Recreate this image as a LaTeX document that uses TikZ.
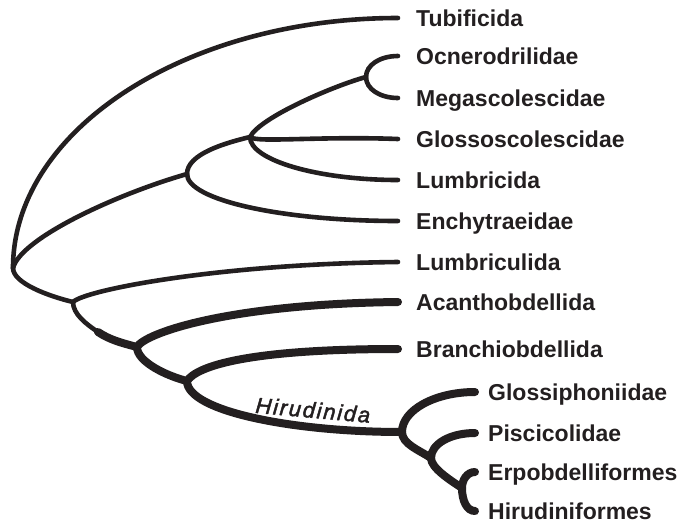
\documentclass[tikz,border=0pt]{standalone}
\usepackage{fontspec}
\setmainfont{Liberation Sans}
\newfontfamily\cladefont{Liberation Sans}[LetterSpace=8, FakeBold=2]
\usetikzlibrary{positioning}
\definecolor{ink}{HTML}{231F20}
\tikzset{
  % --- nodes
  taxon/.style = {anchor=west, inner sep=0pt, text=ink, text height=16.5pt, text depth=0pt,
                  font=\fontsize{23}{26}\selectfont\bfseries},
  clade/.style = {inner sep=0pt, text=ink, font=\cladefont\fontsize{22}{24}\selectfont\itshape},
  % --- edges
  br/.style    = {draw=ink, line width=4.6pt, line cap=round},
  brk/.style   = {br, line width=8pt},
}
\begin{document}
\begin{tikzpicture}[x=1pt, y=-1pt]
  \useasboundingbox (0,0) rectangle (691,531);
  % branch points
  \coordinate (root)   at (13,268);
  \coordinate (olig)   at (187,174);
  \coordinate (crass)  at (250,137);
  \coordinate (megas)  at (366,77);
  \coordinate (lumb)   at (73,302);
  \coordinate (thick)  at (98,332);
  \coordinate (acan)   at (137,347);
  \coordinate (branch) at (187,381);
  \coordinate (hiru)   at (402,432);
  \coordinate (pisc)   at (431,458);
  \coordinate (arhy)   at (462,488);

  \foreach \n/\y/\t in {tubi/18/Tubificida, ocne/56/Ocnerodrilidae, mega/98/Megascolescidae,
                        glos/139/Glossoscolescidae, lumbr/180/Lumbricida, ench/221/Enchytraeidae,
                        lbcl/262/Lumbriculida, acbd/302/Acanthobdellida, brbd/349/Branchiobdellida} {
    \coordinate (t-\n) at (398,\y);
    \node[taxon] (\n) at (416,\y) {\t};
  }
  \foreach \n/\y/\t in {glph/392/Glossiphoniidae, pscl/433/Piscicolidae,
                        erpo/472/Erpobdelliformes, hrdf/511/Hirudiniformes} {
    \coordinate (t-\n) at (475,\y);
    \node[taxon] (\n) at (488,\y) {\t};
  }

  % oligochaete part
  \draw[br] (root) .. controls +(0,-138) and +(-212,0) .. (t-tubi);
  \draw[br] (root) .. controls +(8,-30) and +(-70,20) .. (olig);
  \draw[br] (olig) .. controls +(0,-20) and +(-25,6) .. (crass);
  \draw[br] (olig) .. controls +(0,26) and +(-116,0) .. (t-ench);
  \draw[br] (crass) .. controls +(10,-20) and +(-30,8) .. (megas);
  \draw[br] (crass) .. controls +(6,6) and +(-80,-3) .. (t-glos);
  \draw[br] (crass) .. controls +(0,23) and +(-81,0) .. (t-lumbr);
  \draw[br] (megas) .. controls +(0,-12) and +(-18,0) .. (t-ocne);
  \draw[br] (megas) .. controls +(0,12) and +(-18,0) .. (t-mega);
  \draw[br] (root) .. controls +(0,15) and +(-25,-6) .. (lumb);
  \draw[br] (lumb) .. controls +(12,-12) and +(-180,2) .. (t-lbcl);
  \draw[br] (lumb) .. controls +(0,12) and +(-12,-8) .. (thick);

  % leeches and relatives
  \draw[brk] (thick) .. controls +(12,8) and +(-15,-4) .. (acan);
  \draw[brk] (acan) .. controls +(8,-14) and +(-170,2) .. (t-acbd);
  \draw[brk] (acan) .. controls +(0,15) and +(-20,-5) .. (branch);
  \draw[brk] (branch) .. controls +(10,-15) and +(-150,0) .. (t-brbd);
  \draw[brk] (branch) .. controls +(0,30) and +(-110,0) .. (hiru);
  \draw[brk] (hiru) .. controls +(0,-22) and +(-40,0) .. (t-glph);
  \draw[brk] (hiru) .. controls +(0,12) and +(-12,-8) .. (pisc);
  \draw[brk] (pisc) .. controls +(0,-14) and +(-25,0) .. (t-pscl);
  \draw[brk] (pisc) .. controls +(0,10) and +(-12,-8) .. (arhy);
  \draw[brk] (arhy) .. controls +(0,-8) and +(-8,0) .. (t-erpo);
  \draw[brk] (arhy) .. controls +(0,13) and +(-8,0) .. (t-hrdf);

  \node[clade, rotate=-5] (hirlab) at (313,410) {Hirudinida};
\end{tikzpicture}
\end{document}
